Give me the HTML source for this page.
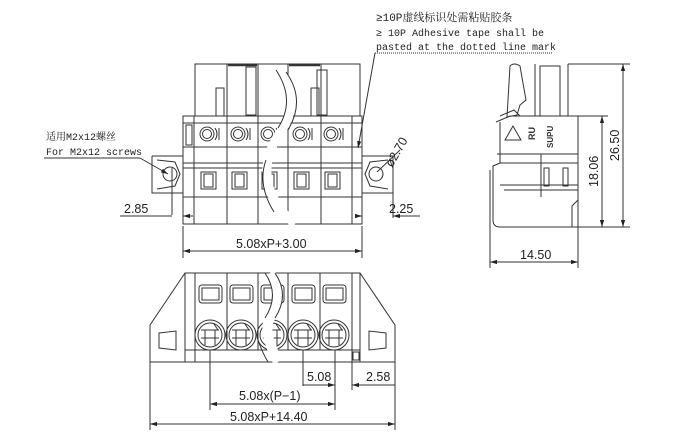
<!DOCTYPE html>
<html><head><meta charset="utf-8"><style>
html,body{margin:0;padding:0;background:#fff;}
svg{display:block;}
text{font-family:"Liberation Sans","Noto Sans CJK SC",sans-serif;fill:#222;}
.m{font-family:"Liberation Mono","Noto Serif CJK SC",monospace;font-size:10px;}
.d{font-size:12.5px;}
</style></head><body>
<svg width="680" height="440" viewBox="0 0 680 440" xmlns="http://www.w3.org/2000/svg">
<defs>
<marker id="a" viewBox="0 0 10 10" refX="10" refY="5" markerWidth="7" markerHeight="7" orient="auto-start-reverse"><path d="M0,2 L10,5 L0,8z" fill="#222"/></marker>
</defs>
<g stroke="#333" stroke-width="1" fill="none">
<rect x="195" y="64" width="165" height="52"/>
<line x1="227" y1="64" x2="227" y2="224"/><line x1="258" y1="64" x2="258" y2="224"/><line x1="288" y1="64" x2="288" y2="224"/><line x1="321" y1="64" x2="321" y2="224"/><line x1="352" y1="116" x2="352" y2="224"/>
<line x1="228" y1="65" x2="257" y2="65" stroke-width="2.5"/><line x1="289" y1="65" x2="320" y2="65" stroke-width="2.5"/>
<rect x="246" y="67" width="10" height="48"/><rect x="317" y="70" width="10" height="45"/>
<rect x="216" y="88" width="8" height="28"/><rect x="311" y="88" width="8" height="28"/>
<rect x="183" y="116" width="179" height="108"/>
<line x1="194" y1="116" x2="194" y2="224"/>
<line x1="183" y1="123" x2="362" y2="123"/><line x1="183" y1="147" x2="362" y2="147"/>
<line x1="183" y1="163" x2="362" y2="163"/><line x1="183" y1="168" x2="362" y2="168"/>
<line x1="183" y1="197" x2="362" y2="197"/>
<rect x="186" y="125" width="6" height="20"/>
<path d="M152,156 H183 M152,156 V193 H183 M157,160 L175,162 L180,174 L175,186 L157,189"/>
<path d="M393,156 H362 M393,156 V193 H362 M388,160 L370,162 L365,174 L370,186 L388,189"/>
<circle cx="170" cy="174" r="7"/><circle cx="376" cy="174" r="7"/>
<line x1="172" y1="168" x2="172" y2="215"/>
<g id="c1"><circle cx="207" cy="134" r="7"/><circle cx="207" cy="134" r="4.5"/><path d="M215,128 Q219,134 215,140 M219,128 V140" /><rect x="201" y="172" width="15" height="17"/><rect x="204" y="174" width="9" height="13"/></g>
<use href="#c1" x="31"/><use href="#c1" x="61"/><use href="#c1" x="93"/><use href="#c1" x="124"/>
<path d="M280,70 Q300,100 282,130 Q260,160 270,190 Q278,210 295,224" stroke="#fff" stroke-width="9"/>
<path d="M276,70 Q296,100 278,128 M266,160 Q257,185 274,212 M286,72 Q306,100 288,130" stroke="#333"/>
<line x1="183" y1="226" x2="183" y2="258"/><line x1="362" y1="226" x2="362" y2="258"/>
<line x1="183" y1="251" x2="362" y2="251" marker-start="url(#a)" marker-end="url(#a)"/>
<line x1="183" y1="197" x2="183" y2="218"/>
<line x1="120" y1="216" x2="172" y2="216"/><line x1="183" y1="216" x2="193" y2="216" marker-start="url(#a)"/>
<line x1="393" y1="193" x2="393" y2="218"/>
<line x1="355" y1="216" x2="362" y2="216" marker-end="url(#a)"/><line x1="393" y1="216" x2="420" y2="216" marker-start="url(#a)"/>
<line x1="44" y1="158" x2="140" y2="158"/><line x1="140" y1="158" x2="168" y2="174" marker-end="url(#a)"/>
<line x1="377" y1="172" x2="400" y2="150"/>
<line x1="375" y1="53" x2="552" y2="53" stroke-dasharray="1,1"/>
<line x1="375" y1="53" x2="358" y2="148" marker-end="url(#a)"/>
<path d="M510,66 Q514,62 520,66 L526,100 L520,105 L517,115 L507,117 Z"/>
<path d="M500,116 L514,110 L520,116"/>
<rect x="540" y="66" width="20" height="50"/>
<line x1="535" y1="64" x2="535" y2="116"/><line x1="568" y1="64" x2="568" y2="116"/>
<path d="M496,122 L510,116 H578 V227 H500 Q493,227 493,220 V166 L500,163 V122"/>
<line x1="497" y1="154" x2="578" y2="154"/><line x1="500" y1="163" x2="578" y2="163"/>
<line x1="500" y1="185" x2="578" y2="185"/><line x1="504" y1="190" x2="578" y2="190"/>
<line x1="541" y1="154" x2="541" y2="197"/>
<rect x="544" y="168" width="5" height="18"/><rect x="563" y="168" width="5" height="18"/>
<path d="M578,200 L572,206 V227"/>
<path d="M505,140 L513,126 L521,140 Z"/>
<text x="0" y="0" transform="translate(535,140) rotate(-90)" style="font-size:9px;stroke:none;fill:#333;font-weight:bold">RU</text>
<text x="0" y="0" transform="translate(553,148) rotate(-90)" style="font-size:8px;stroke:none;fill:#333;font-weight:bold">SUPU</text>
<line x1="568" y1="64" x2="630" y2="64"/><line x1="578" y1="116" x2="608" y2="116"/><line x1="578" y1="227" x2="630" y2="227"/>
<line x1="623" y1="64" x2="623" y2="227" marker-start="url(#a)" marker-end="url(#a)"/>
<line x1="602" y1="116" x2="602" y2="227" marker-start="url(#a)" marker-end="url(#a)"/>
<line x1="490" y1="170" x2="490" y2="268"/><line x1="578" y1="227" x2="578" y2="268"/>
<line x1="490" y1="262" x2="578" y2="262" marker-start="url(#a)" marker-end="url(#a)"/>
<path d="M185,273 L150,325 V362 H395 V325 L360,273 Z"/>
<line x1="195" y1="273" x2="195" y2="362"/><line x1="227" y1="273" x2="227" y2="350"/><line x1="258" y1="273" x2="258" y2="350"/><line x1="288" y1="273" x2="288" y2="350"/><line x1="320" y1="273" x2="320" y2="350"/><line x1="352" y1="273" x2="352" y2="362"/>
<line x1="185" y1="273" x2="185" y2="362"/><line x1="360" y1="273" x2="360" y2="362"/>
<line x1="185" y1="350" x2="360" y2="350"/>
<path d="M159,333 L176,331 V350 L159,348 Z"/><path d="M386,333 L369,331 V350 L386,348 Z"/>
<rect x="353" y="352" width="6" height="8"/>
<g id="c2"><rect x="199" y="285" width="23" height="18" rx="3"/><rect x="202" y="288" width="17" height="12"/><circle cx="210" cy="335" r="15"/><circle cx="210" cy="335" r="12"/><path d="M201,330 H219 M201,338 H219 M205,330 V345 M215,330 V345 M214,324 L218,330"/></g>
<use href="#c2" x="31"/><use href="#c2" x="62"/><use href="#c2" x="93"/><use href="#c2" x="124"/>
<path d="M270,273 Q285,295 270,318 Q262,330 278,362" stroke="#fff" stroke-width="10"/>
<path d="M265,273 Q280,295 265,318 M275,273 Q290,295 275,318 M258,340 Q262,352 268,362" stroke="#333"/>
<line x1="150" y1="362" x2="150" y2="430"/><line x1="395" y1="362" x2="395" y2="430"/>
<line x1="150" y1="424" x2="395" y2="424" marker-start="url(#a)" marker-end="url(#a)"/>
<line x1="210" y1="350" x2="210" y2="410"/><line x1="335" y1="350" x2="335" y2="410"/><line x1="303" y1="350" x2="303" y2="386"/>
<line x1="210" y1="404" x2="335" y2="404" marker-start="url(#a)" marker-end="url(#a)"/>
<line x1="303" y1="385" x2="335" y2="385" marker-end="url(#a)"/>
<line x1="352" y1="362" x2="352" y2="390"/>
<line x1="352" y1="385" x2="395" y2="385" marker-start="url(#a)"/>
</g>
<text class="d" x="236" y="248">5.08xP+3.00</text>
<text class="d" x="124" y="213">2.85</text>
<text class="d" x="389" y="213">2.25</text>
<text class="d" x="0" y="0" transform="translate(392,168) rotate(-60)">ø2.70</text>
<text class="d" x="520" y="259">14.50</text>
<text class="d" x="0" y="0" transform="translate(619,161) rotate(-90)">26.50</text>
<text class="d" x="0" y="0" transform="translate(598,187) rotate(-90)">18.06</text>
<text class="d" x="307" y="381">5.08</text>
<text class="d" x="366" y="381">2.58</text>
<text class="d" x="239" y="400">5.08x(P−1)</text>
<text class="d" x="230" y="421">5.08xP+14.40</text>
<text class="m" x="46" y="140">适用M2x12螺丝</text>
<text class="m" x="46" y="155">For M2x12 screws</text>
<text class="m" x="376" y="21" style="font-size:11px">≥10P虚线标识处需粘贴胶条</text>
<text class="m" x="376" y="36">≥ 10P Adhesive tape shall be</text>
<text class="m" x="376" y="50">pasted at the dotted line mark</text>
</svg>
</body></html>
